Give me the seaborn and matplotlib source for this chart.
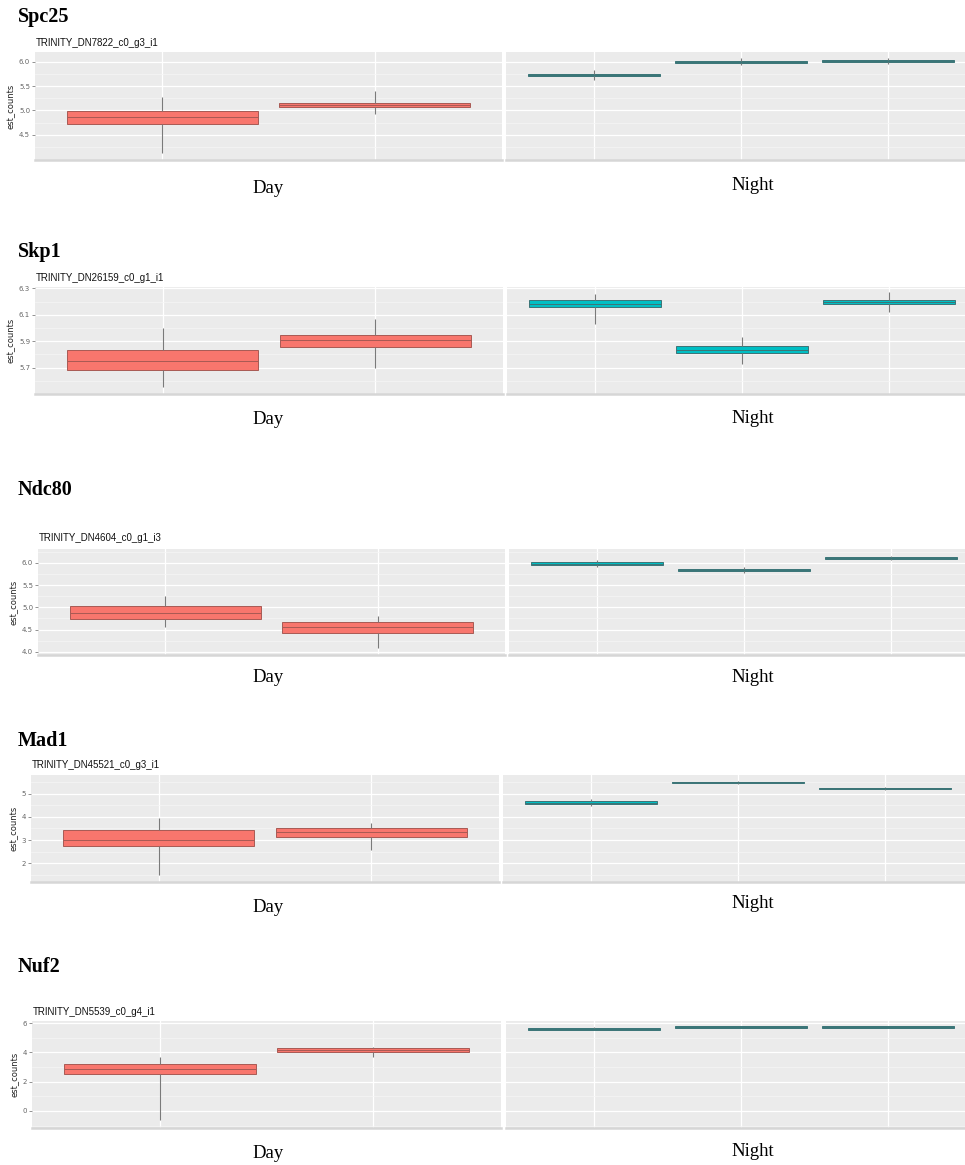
import numpy as np
import pandas as pd
import seaborn as sns
import matplotlib
matplotlib.use("Agg")
from matplotlib import pyplot as plt
from matplotlib.ticker import FixedLocator

# gene names and transcript ids
genes = ["Spc25", "Skp1", "Ndc80", "Mad1", "Nuf2"]
transcripts = ["TRINITY_DN7822_c0_g3_i1", "TRINITY_DN26159_c0_g1_i1",
               "TRINITY_DN4604_c0_g1_i3", "TRINITY_DN45521_c0_g3_i1",
               "TRINITY_DN5539_c0_g4_i1"]

# five-number summaries per sample: whisker low, lower hinge, median, upper hinge, whisker high
spc25_day = [[4.13, 4.73, 4.86, 4.98, 5.27], [4.92, 5.06, 5.11, 5.16, 5.39]]
spc25_night = [[5.63, 5.71, 5.73, 5.75, 5.84], [5.93, 5.98, 6.00, 6.02, 6.07],
               [5.96, 6.00, 6.02, 6.04, 6.07]]
skp1_day = [[5.55, 5.685, 5.75, 5.83, 6.00], [5.70, 5.855, 5.91, 5.945, 6.065]]
skp1_night = [[6.03, 6.155, 6.18, 6.21, 6.255], [5.73, 5.81, 5.835, 5.86, 5.93],
              [6.12, 6.18, 6.20, 6.215, 6.27]]
ndc80_day = [[4.55, 4.73, 4.87, 5.02, 5.25], [4.09, 4.43, 4.55, 4.66, 4.81]]
ndc80_night = [[5.91, 5.95, 5.98, 6.01, 6.06], [5.78, 5.81, 5.84, 5.87, 5.90],
               [6.06, 6.08, 6.11, 6.14, 6.16]]
mad1_day = [[1.52, 2.74, 3.00, 3.43, 3.96], [2.57, 3.13, 3.35, 3.52, 3.74]]
mad1_night = [[4.45, 4.55, 4.61, 4.68, 4.78], [5.42, 5.45, 5.48, 5.51, 5.54],
              [5.16, 5.19, 5.22, 5.25, 5.28]]
nuf2_day = [[-0.60, 2.50, 2.86, 3.20, 3.70], [3.70, 4.00, 4.14, 4.28, 4.40]]
nuf2_night = [[5.50, 5.54, 5.60, 5.66, 5.70], [5.66, 5.69, 5.73, 5.77, 5.80],
              [5.65, 5.69, 5.73, 5.77, 5.79]]

day_stats = [spc25_day, skp1_day, ndc80_day, mad1_day, nuf2_day]
night_stats = [spc25_night, skp1_night, ndc80_night, mad1_night, nuf2_night]

y_limits = [(3.98, 6.20), (5.50, 6.31), (3.93, 6.31), (1.20, 5.80), (-1.16, 6.14)]
y_ticks = [[4.5, 5.0, 5.5, 6.0], [5.7, 5.9, 6.1, 6.3], [4.0, 4.5, 5.0, 5.5, 6.0],
           [2, 3, 4, 5], [0, 2, 4, 6]]
y_ticklabels = [["4.5", "5.0", "5.5", "6.0"], ["5.7", "5.9", "6.1", "6.3"],
                ["4.0", "4.5", "5.0", "5.5", "6.0"], ["2", "3", "4", "5"],
                ["0", "2", "4", "6"]]

# layout in pixels: panel top, panel bottom, left panel x0/x1, right panel x0
panel_top = [52, 287, 549, 775, 1021]
panel_bottom = [160, 394, 655, 882, 1128]
left_x = [(35, 502), (35, 503), (38, 505), (31, 499), (32, 501)]
right_x0 = [506, 507, 509, 503, 506]
title_y = [17, 252, 490, 741, 967]
subtitle_y = [43, 278, 538, 765, 1012]
day_label_y = [188, 420, 678, 907, 1153]
night_label_y = [185, 418, 678, 903, 1152]

W, H = 965, 1165
DAY_COLOR = "#F8766D"
NIGHT_COLOR = "#00BFC4"
DAY_EDGE = "#A85A54"
NIGHT_EDGE = "#3C7476"
WHISKER = "#7A7A7A"
PANEL_BG = "#EBEBEB"


def to_frame(stats, prefix):
    rows = []
    for i, summary in enumerate(stats):
        for v in summary:
            rows.append({"sample": f"{prefix}{i + 1}", "est_counts": v})
    return pd.DataFrame(rows)


def add_panel(fig, x0, x1, top, bottom):
    return fig.add_axes([x0 / W, 1 - bottom / H, (x1 - x0) / W, (bottom - top) / H])


def draw_boxes(ax, stats, prefix, fill, edge):
    sns.boxplot(data=to_frame(stats, prefix), x="sample", y="est_counts", ax=ax,
                color=fill, saturation=1, width=0.9, whis=(0, 100),
                linewidth=0.7, showcaps=False, fliersize=0,
                boxprops={"edgecolor": edge},
                medianprops={"color": edge},
                whiskerprops={"color": WHISKER, "linewidth": 0.8})


def style_panel(ax, n, ylim, ticks, labels, show_y):
    ax.set_facecolor(PANEL_BG)
    ax.set_xlim(-0.6, n - 0.4)
    ax.set_ylim(*ylim)
    ax.yaxis.set_major_locator(FixedLocator(ticks))
    step = ticks[1] - ticks[0]
    minors = np.arange(ticks[0] - step * 1.5, ticks[-1] + step, step)
    ax.yaxis.set_minor_locator(FixedLocator(minors))
    ax.grid(which="major", axis="both", color="white", linewidth=0.9)
    ax.grid(which="minor", axis="y", color="#F6F6F6", linewidth=0.5)
    ax.set_axisbelow(True)
    ax.set_xticks(range(n))
    ax.set_xticklabels([])
    ax.tick_params(axis="x", length=0)
    ax.tick_params(axis="y", which="minor", length=0)
    for side in ["top", "left", "right"]:
        ax.spines[side].set_visible(False)
    ax.spines["bottom"].set_color("#D6D6D6")
    ax.spines["bottom"].set_linewidth(1.8)
    ax.set_xlabel("")
    if show_y:
        ax.set_yticklabels(labels)
        ax.tick_params(axis="y", which="major", length=2, width=0.5, color="#666666",
                       labelsize=5, labelcolor="#666666", pad=1.5)
        ax.set_ylabel("est_counts", fontsize=6, color="#222222", labelpad=2)
    else:
        ax.set_yticklabels([])
        ax.tick_params(axis="y", which="major", length=0)
        ax.set_ylabel("")


fig = plt.figure(figsize=(W / 100, H / 100), dpi=100)
fig.patch.set_facecolor("white")

for g in range(len(genes)):
    top, bottom = panel_top[g], panel_bottom[g]

    ax_day = add_panel(fig, left_x[g][0], left_x[g][1], top, bottom)
    draw_boxes(ax_day, day_stats[g], "D", DAY_COLOR, DAY_EDGE)
    style_panel(ax_day, 2, y_limits[g], y_ticks[g], y_ticklabels[g], True)

    # night panel runs past the right edge of the page, as in the original
    ax_night = add_panel(fig, right_x0[g], right_x0[g] + 470, top, bottom)
    draw_boxes(ax_night, night_stats[g], "N", NIGHT_COLOR, NIGHT_EDGE)
    style_panel(ax_night, 3, y_limits[g], y_ticks[g], y_ticklabels[g], False)

    fig.text(18 / W, 1 - title_y[g] / H, genes[g], family="Liberation Serif",
             fontweight="bold", fontsize=14.5, ha="left", va="center")
    fig.text((left_x[g][0] + 1) / W, 1 - subtitle_y[g] / H, transcripts[g],
             family="Liberation Sans", fontsize=7, ha="left", va="center", color="#111111")
    fig.text(268 / W, 1 - day_label_y[g] / H, "Day", family="Liberation Serif",
             fontsize=13.5, ha="center", va="center")
    fig.text(753 / W, 1 - night_label_y[g] / H, "Night", family="Liberation Serif",
             fontsize=13.5, ha="center", va="center")

fig.savefig("out.png", dpi=100, facecolor="white")
